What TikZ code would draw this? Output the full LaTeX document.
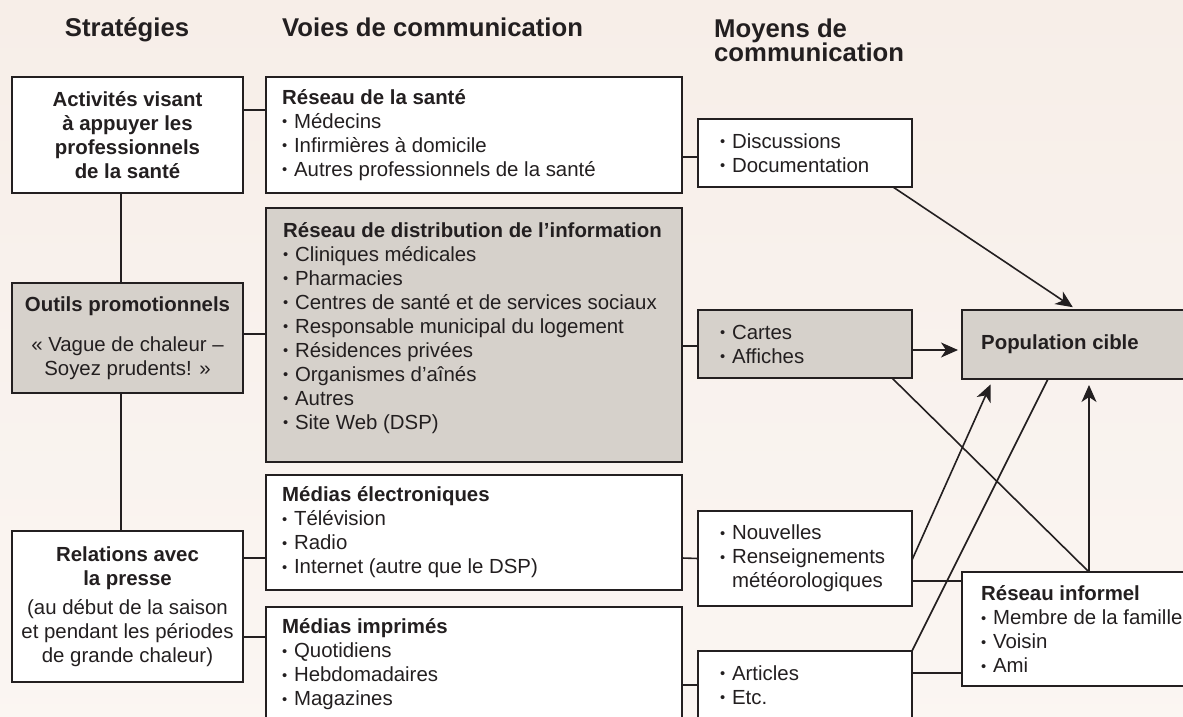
\documentclass[tikz,border=0pt]{standalone}
\usepackage{graphicx}
\usepackage{fontspec}
\setmainfont{Liberation Sans}
\usetikzlibrary{arrows.meta,positioning}

\definecolor{fond}{HTML}{F7EEE8}
\definecolor{gris}{HTML}{D6D1CB}
\definecolor{trait}{HTML}{231F20}
\newcommand{\puce}{\raisebox{0.07em}{\scalebox{0.72}{\textbullet}}\hspace{0.33em}}

\tikzset{
  boite/.style={draw=trait, line width=1.8pt, fill=white, anchor=north west, inner sep=0pt, outer sep=0pt},
  boitegrise/.style={boite, fill=gris},
  texte/.style={inner sep=0pt, text=trait, font=\fontsize{20.4}{24}\selectfont},
  gras/.style={texte, font=\fontsize{20.4}{24}\selectfont\bfseries},
  entete/.style={inner sep=0pt, text=trait, font=\fontsize{25.7}{24}\selectfont\bfseries},
  lien/.style={draw=trait, line width=1.6pt},
  fleche/.style={lien, -{Stealth[length=17pt,width=15pt,inset=5pt]}},
}

\begin{document}
\begin{tikzpicture}[x=1pt,y=-1pt]
\useasboundingbox (0,0) rectangle (1183,717);
\shade[top color=fond, bottom color=fond!55!white] (0,0) rectangle (1183,717);
\clip (0,0) rectangle (1183,717);

% en-tetes
\node[entete, anchor=base] (strategies) at (127,37) {Stratégies};
\node[entete, anchor=base west] (voies) at (282,37) {Voies de communication};
\node[entete, anchor=north west, align=left] (moyens) at (714,18.5) {Moyens de\\communication};

% strategies
\node[boite, gras, minimum width=231, minimum height=116, align=center] (activites) at (12,77) {Activités visant\\à appuyer les\\professionnels\\de la santé};
\node[boitegrise, texte, minimum width=231, minimum height=110, align=center] (outils) at (12,283) {\textbf{Outils promotionnels}\\[16pt]« Vague de chaleur –\\Soyez prudents! »};
\node[boite, texte, minimum width=231, minimum height=151, align=center] (relations) at (12,531) {\textbf{Relations avec}\\\textbf{la presse}\\[5pt](au début de la saison\\et pendant les périodes\\de grande chaleur)};

% voies de communication
\node[boite, minimum width=416, minimum height=116] (sante) at (266,77) {};
\node[texte, align=left, right=16pt of sante.west] (santeTxt) {\textbf{Réseau de la santé}\\\puce Médecins\\\puce Infirmières à domicile\\\puce Autres professionnels de la santé};
\node[boitegrise, minimum width=416, minimum height=254] (distribution) at (266,208) {};
\node[texte, align=left, anchor=north west] (distributionTxt) at ([xshift=17pt,yshift=-14pt]distribution.north west) {\textbf{Réseau de distribution de l’information}\\\puce Cliniques médicales\\\puce Pharmacies\\\puce Centres de santé et de services sociaux\\\puce Responsable municipal du logement\\\puce Résidences privées\\\puce Organismes d’aînés\\\puce Autres\\\puce Site Web (DSP)};
\node[boite, minimum width=416, minimum height=115] (electroniques) at (266,475) {};
\node[texte, align=left, right=16pt of electroniques.west] (electroniquesTxt) {\textbf{Médias électroniques}\\\puce Télévision\\\puce Radio\\\puce Internet (autre que le DSP)};
\node[boite, minimum width=416, minimum height=115] (imprimes) at (266,607) {};
\node[texte, align=left, right=16pt of imprimes.west] (imprimesTxt) {\textbf{Médias imprimés}\\\puce Quotidiens\\\puce Hebdomadaires\\\puce Magazines};

% moyens de communication
\node[boite, minimum width=214, minimum height=68] (discussions) at (698,119) {};
\node[texte, align=left, right=22pt of discussions.west] (discussionsTxt) {\puce Discussions\\\puce Documentation};
\node[boitegrise, minimum width=214, minimum height=68] (cartes) at (698,310) {};
\node[texte, align=left, right=22pt of cartes.west] (cartesTxt) {\puce Cartes\\\puce Affiches};
\node[boite, minimum width=214, minimum height=95] (nouvelles) at (698,511) {};
\node[texte, align=left, right=22pt of nouvelles.west] (nouvellesTxt) {\puce Nouvelles\\\puce Renseignements\\\hphantom{\puce}météorologiques};
\node[boite, minimum width=214, minimum height=68] (articles) at (698,651) {};
\node[texte, align=left, right=22pt of articles.west] (articlesTxt) {\puce Articles\\\puce Etc.};

% cible
\node[boitegrise, minimum width=260, minimum height=69] (population) at (962,310) {};
\node[gras, right=19pt of population.west] (populationTxt) {Population cible};
\node[boite, minimum width=260, minimum height=114] (informel) at (962,572) {};
\node[texte, align=left, right=19pt of informel.west] (informelTxt) {\textbf{Réseau informel}\\\puce Membre de la famille\\\puce Voisin\\\puce Ami};

% liens
\draw[lien] ([xshift=-6.5pt]activites.south) -- ([xshift=-6.5pt]outils.north);
\draw[lien] ([xshift=-6.5pt]outils.south) -- ([xshift=-6.5pt]relations.north);
\draw[lien] ([yshift=25pt]activites.east) -- ([yshift=25pt]sante.west);
\draw[lien] ([yshift=4pt]outils.east) -- ([yshift=1pt]distribution.west);
\draw[lien] ([yshift=48.5pt]relations.east) -- ([yshift=-25.5pt]electroniques.west);
\draw[lien] ([yshift=-30.5pt]relations.east) -- ([yshift=27.5pt]imprimes.west);
\draw[lien] ([yshift=-22pt]sante.east) -- ([yshift=-4pt]discussions.west);
\draw[lien] ([yshift=-11pt]distribution.east) -- ([yshift=-2pt]cartes.west);
\draw[lien] ([yshift=-25.5pt]electroniques.east) -- (nouvelles.west);
\draw[lien] ([yshift=-20.5pt]imprimes.east) -- (articles.west);
\draw[lien] ([yshift=-22.5pt]nouvelles.east) -- ([yshift=48pt]informel.west);
\draw[lien] ([yshift=12pt]articles.east) -- ([yshift=-44pt]informel.west);
\draw[lien] (articles.north east) -- ([xshift=86pt]population.south west);
\draw[lien] ([xshift=-20pt]cartes.south east) -- ([xshift=127pt]informel.north west);

% fleches
\draw[fleche, shorten >=5pt] ([xshift=-19pt]discussions.south east) -- ([xshift=115pt]population.north west);
\draw[fleche, shorten >=4pt] ([yshift=-6pt]cartes.east) -- ([yshift=-5.5pt]population.west);
\draw[fleche, shorten >=6pt] ([yshift=-1.5pt]nouvelles.east) -- ([xshift=31pt]population.south west);
\draw[fleche, shorten >=6pt] ([xshift=127pt]informel.north west) -- ([xshift=127pt]population.south west);
\end{tikzpicture}
\end{document}
